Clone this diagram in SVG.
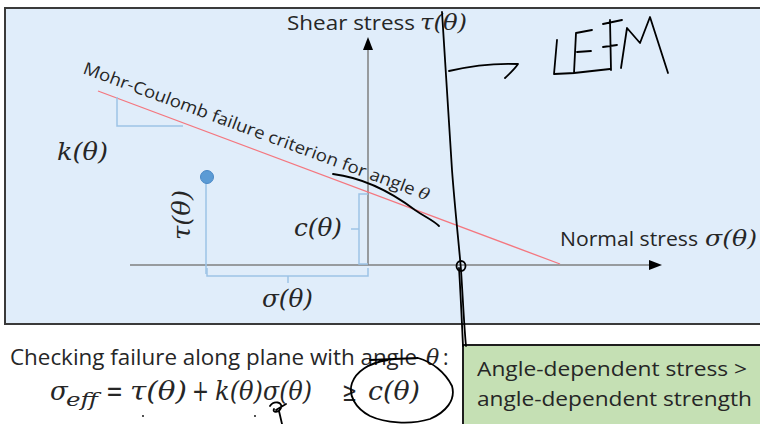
<svg xmlns="http://www.w3.org/2000/svg" width="760" height="424" viewBox="0 0 760 424">
<defs>
<style>
.sans{font-family:"Open Sans","Liberation Sans",sans-serif;fill:#262626}
.math{font-family:"DejaVu Serif","Liberation Serif",serif;font-style:italic;fill:#262626}
.up{font-family:"DejaVu Serif","Liberation Serif",serif;fill:#262626}
.axis{stroke:#7f7f7f;stroke-width:1.5;fill:none}
.br{stroke:#9dc3e6;stroke-width:1.5;fill:none}
.ink{stroke:#000;stroke-width:1.8;fill:none;stroke-linecap:round;stroke-linejoin:round}
</style>
</defs>
<rect x="0" y="0" width="760" height="424" fill="#ffffff"/>
<g id="panel">
<rect x="5" y="8" width="770" height="316" fill="#e0edfa" stroke="#3a3a3a" stroke-width="2"/>
</g>
<g id="connectors">
<line class="axis" x1="368" y1="48" x2="368" y2="265"/>
<polygon points="368,37 363,50 373,50" fill="#000"/>
<line class="axis" x1="130" y1="265" x2="650" y2="265"/>
<polygon points="662,265 649,260 649,270" fill="#000"/>
<line x1="98" y1="91" x2="560" y2="264" stroke="#f4777f" stroke-width="1.3"/>
<path class="br" d="M117,97 V126 H183"/>
<line class="br" x1="206" y1="182" x2="206" y2="274"/>
<path class="br" d="M368,194 H359 V229 H351 M359,229 V264 H368"/>
<path class="br" d="M207,268 V276 H368 V268 M288,276 V283"/>
</g>
<g id="shear-label">
<text class="sans" x="287" y="30" font-size="20" textLength="128" lengthAdjust="spacingAndGlyphs">Shear stress</text>
<text class="math" x="420" y="30" font-size="23" textLength="47" lengthAdjust="spacingAndGlyphs">τ(θ)</text>
</g>
<g id="normal-label">
<text class="sans" x="560" y="246" font-size="20" textLength="138" lengthAdjust="spacingAndGlyphs">Normal stress</text>
<text class="math" x="705" y="246" font-size="23" textLength="52" lengthAdjust="spacingAndGlyphs">σ(θ)</text>
</g>
<g id="mc-label">
<text class="sans" font-size="17" transform="translate(82,73) rotate(20.3)" textLength="368" lengthAdjust="spacingAndGlyphs">Mohr-Coulomb failure criterion for angle <tspan class="math" font-size="16">θ</tspan></text>
</g>
<g id="k-label">
<text class="math" x="57" y="160" font-size="24" textLength="51" lengthAdjust="spacingAndGlyphs">k(θ)</text>
</g>
<g id="point">
<circle cx="207" cy="177" r="6.5" fill="#5b9bd5" stroke="#4a88c6" stroke-width="1"/>
<text class="math" font-size="24" transform="translate(190,240) rotate(-90)" textLength="50" lengthAdjust="spacingAndGlyphs">τ(θ)</text>
</g>
<g id="c-label">
<text class="math" x="294" y="236" font-size="24" textLength="48" lengthAdjust="spacingAndGlyphs">c(θ)</text>
</g>
<g id="sigma-label">
<text class="math" x="262" y="307" font-size="24" textLength="51" lengthAdjust="spacingAndGlyphs">σ(θ)</text>
</g>
<g id="check-text">
<text class="sans" x="10" y="365" font-size="21" textLength="407" lengthAdjust="spacingAndGlyphs">Checking failure along plane with angle</text>
<text class="math" x="426" y="365" font-size="22">θ</text>
<text class="sans" x="443" y="365" font-size="21">:</text>
</g>
<g id="formula">
<text class="math" x="50" y="400" font-size="26">σ</text>
<text class="math" x="66" y="406" font-size="18" textLength="32" lengthAdjust="spacingAndGlyphs">eff</text>
<text class="up" x="106" y="401" font-size="30" textLength="17" lengthAdjust="spacingAndGlyphs">=</text>
<text class="math" x="130" y="400" font-size="26" textLength="57" lengthAdjust="spacingAndGlyphs">τ(θ)</text>
<text class="up" x="192" y="401" font-size="30" textLength="17" lengthAdjust="spacingAndGlyphs">+</text>
<text class="math" x="215" y="400" font-size="26" textLength="48" lengthAdjust="spacingAndGlyphs">k(θ)</text>
<text class="math" x="263" y="400" font-size="26" textLength="49" lengthAdjust="spacingAndGlyphs">σ(θ)</text>
<text class="up" x="342" y="401" font-size="27" textLength="15" lengthAdjust="spacingAndGlyphs">≥</text>
<text class="math" x="368" y="400" font-size="26" textLength="52" lengthAdjust="spacingAndGlyphs">c(θ)</text>
</g>
<g id="result-box">
<rect x="463" y="345" width="310" height="90" fill="#c5e0b4" stroke="#1e1e1e" stroke-width="2"/>
<text class="sans" x="477" y="376" font-size="20" textLength="270" lengthAdjust="spacingAndGlyphs">Angle-dependent stress &gt;</text>
<text class="sans" x="477" y="406" font-size="20" textLength="275" lengthAdjust="spacingAndGlyphs">angle-dependent strength</text>
</g>
<g id="ink">
<path class="ink" d="M442,12 C445,60 448,110 452,170 C455,210 459,245 461,270 C463,300 464,325 466,346"/>
<path class="ink" stroke-width="1.4" d="M459,268 C461,300 462,325 463,346"/>
<ellipse class="ink" cx="461" cy="266" rx="4.5" ry="5"/>
<path class="ink" d="M449,71 C470,66 495,63 518,64 C514,70 509,74 505,78"/>
<path class="ink" d="M557,40 L554,74 L575,73 M576,33 L574,73 L610,69 M576,33 L592,30 M577,52 L591,51 M610,20 L611,70 M603,24 L622,20 M603,47 L617,45 M621,68 L627,28 L640,43 L650,17 L668,73"/>
<path class="ink" d="M333,174 C365,178 395,195 415,210 C425,217 433,220 439,226"/>
<path class="ink" d="M370,360 L418,358 C432,362 445,372 452,386 C456,400 446,412 430,419 C410,425 385,423 370,416 C355,408 348,395 352,383 C356,372 368,363 388,360"/>
<path class="ink" stroke-width="1.4" d="M270,406 C274,400 283,402 281,408 C279,413 272,413 274,409 M279,411 L282,424 M276,410 L286,404"/>
<circle cx="143" cy="416" r="0.9" fill="#000"/>
<circle cx="255" cy="416" r="0.9" fill="#000"/>
</g>
</svg>
